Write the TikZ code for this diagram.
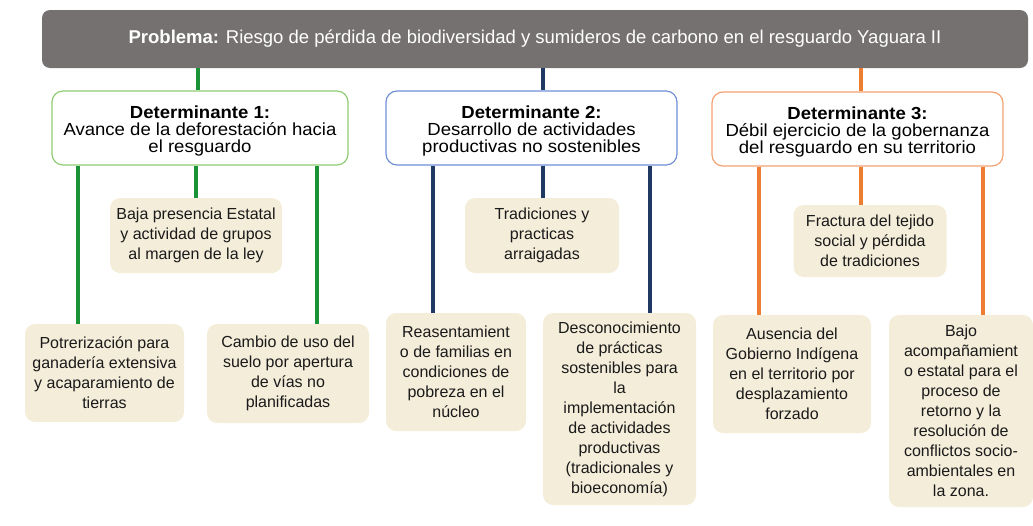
\documentclass[tikz,border=0pt]{standalone}
\usepackage{fontspec}
\setmainfont{Liberation Sans}
\newfontfamily\detfont{Liberation Sans}[FakeStretch=1.06]
\definecolor{probfill}{HTML}{767171}
\definecolor{beige}{HTML}{F4EDDA}
\definecolor{txt}{HTML}{1A1A1A}
\definecolor{gline}{HTML}{1A9236}
\definecolor{bline}{HTML}{1F3864}
\definecolor{oline}{HTML}{ED7D31}
\definecolor{gbord}{HTML}{8FCC72}
\definecolor{bbord}{HTML}{7090D8}
\definecolor{obord}{HTML}{F4A272}
\begin{document}
\begin{tikzpicture}[x=1pt,y=-1pt,
  prob/.style={fill=probfill, rounded corners=8pt, text=white, inner sep=0pt,
    font=\fontsize{18.5}{20}\selectfont},
  det/.style={draw, line width=1.2pt, fill=white, rounded corners=11pt, align=center,
    text=black, inner sep=0pt, font=\detfont\fontsize{17.5}{17}\selectfont},
  leaf/.style={fill=beige, rounded corners=10pt, align=center, text=txt, inner sep=0pt,
    font=\fontsize{16}{20}\selectfont},
  conn/.style={line width=3.5pt}]
\useasboundingbox (0,0) rectangle (1033,525);

\node[prob, minimum width=986pt, minimum height=58pt] (prob) at (535,39)
  {\textbf{Problema:} Riesgo de pérdida de biodiversidad y sumideros de carbono en el resguardo Yaguara II};

\node[det, draw=gbord, minimum width=296pt, minimum height=74pt] (d1) at (200,128)
  {\rule{0pt}{18pt}\textbf{Determinante 1:}\\Avance de la deforestación hacia\\el resguardo};
\node[det, draw=bbord, minimum width=291pt, minimum height=74pt] (d2) at (531.5,128)
  {\rule{0pt}{18pt}\textbf{Determinante 2:}\\Desarrollo de actividades\\productivas no sostenibles};
\node[det, draw=obord, minimum width=291pt, minimum height=74pt] (d3) at (857.5,129)
  {\rule{0pt}{18pt}\textbf{Determinante 3:}\\Débil ejercicio de la gobernanza\\del resguardo en su territorio};

\node[leaf, minimum width=172pt, minimum height=75pt] (b1) at (196,235.5)
  {Baja presencia Estatal\\y actividad de grupos\\al margen de la ley};
\node[leaf, minimum width=154pt, minimum height=75pt] (b2) at (542,235.5)
  {Tradiciones y\\practicas\\arraigadas};
\node[leaf, minimum width=153pt, minimum height=72pt] (b3) at (870,241)
  {Fractura del tejido\\social y pérdida\\de tradiciones};

\node[leaf, minimum width=159pt, minimum height=98pt] (p1) at (104.5,373)
  {Potrerización para\\ganadería extensiva\\y acaparamiento de\\tierras};
\node[leaf, minimum width=162pt, minimum height=99pt] (p2) at (288,373.5)
  {Cambio de uso del\\suelo por apertura\\de vías no\\planificadas};
\node[leaf, minimum width=140pt, minimum height=118pt] (p3) at (456,372)
  {Reasentamient\\o de familias en\\condiciones de\\pobreza en el\\núcleo};
\node[leaf, minimum width=153pt, minimum height=192pt] (p4) at (619.5,409)
  {Desconocimiento\\de prácticas\\sostenibles para\\la\\implementación\\de actividades\\productivas\\(tradicionales y\\bioeconomía)};
\node[leaf, minimum width=158pt, minimum height=118pt] (p5) at (792,374)
  {Ausencia del\\Gobierno Indígena\\en el territorio por\\desplazamiento\\forzado};
\node[leaf, minimum width=144pt, minimum height=192pt] (p6) at (961,411)
  {Bajo\\acompañamient\\o estatal para el\\proceso de\\retorno y la\\resolución de\\conflictos socio-\\ambientales en\\la zona.};

\coordinate (t1) at (198,0);
\coordinate (t2) at (543,0);
\coordinate (t3) at (861,0);
\coordinate (a1) at (78,0);
\coordinate (a2) at (196,0);
\coordinate (a3) at (317,0);
\coordinate (e1) at (433,0);
\coordinate (e2) at (543,0);
\coordinate (e3) at (650,0);
\coordinate (o1) at (759,0);
\coordinate (o2) at (861,0);
\coordinate (o3) at (983,0);

\draw[conn, gline] (prob.south -| t1) -- (d1.north -| t1);
\draw[conn, bline] (prob.south -| t2) -- (d2.north -| t2);
\draw[conn, oline] (prob.south -| t3) -- (d3.north -| t3);

\draw[conn, gline] (d1.south -| a1) -- (p1.north -| a1);
\draw[conn, gline] (d1.south -| a2) -- (b1.north -| a2);
\draw[conn, gline] (d1.south -| a3) -- (p2.north -| a3);

\draw[conn, bline] (d2.south -| e1) -- (p3.north -| e1);
\draw[conn, bline] (d2.south -| e2) -- (b2.north -| e2);
\draw[conn, bline] (d2.south -| e3) -- (p4.north -| e3);

\draw[conn, oline] (d3.south -| o1) -- (p5.north -| o1);
\draw[conn, oline] (d3.south -| o2) -- (b3.north -| o2);
\draw[conn, oline] (d3.south -| o3) -- (p6.north -| o3);
\end{tikzpicture}
\end{document}
